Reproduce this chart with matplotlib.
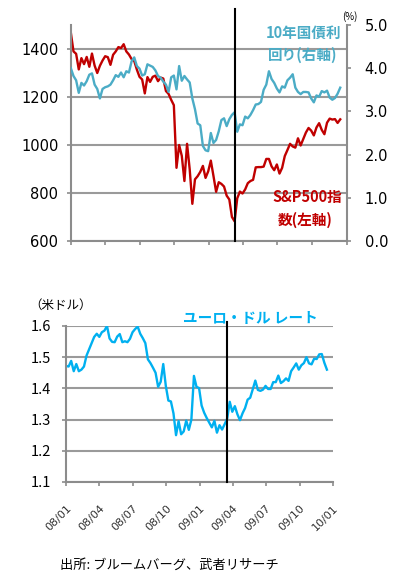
import numpy as np
import pandas as pd
import matplotlib
matplotlib.use("Agg")
import matplotlib.pyplot as plt
import matplotlib.dates as mdates

plt.rcParams['font.family'] = ['Noto Sans CJK JP', 'DejaVu Sans']

# weekly samples, 2008/01/01 - 2009/12/15
dates = pd.date_range('2008-01-01', periods=103, freq='7D')

sp500 = [1468, 1390, 1380, 1315, 1362, 1337, 1367, 1326, 1381, 1331,
         1300, 1330, 1352, 1370, 1366, 1334, 1376, 1390, 1408, 1404,
         1420, 1390, 1377, 1358, 1350, 1314, 1284, 1273, 1215, 1283,
         1263, 1284, 1289, 1266, 1281, 1277, 1225, 1213, 1188, 1166,
         905, 1000, 955, 850, 1005, 899, 755, 857, 870, 888,
         913, 863, 890, 935, 871, 805, 845, 838, 827, 789,
         773, 700, 682, 778, 806, 798, 815, 841, 850, 855,
         907, 908, 908, 910, 942, 942, 911, 895, 919, 881,
         905, 954, 979, 1005, 994, 989, 1028, 998, 1025, 1052,
         1071, 1060, 1040, 1073, 1091, 1063, 1045, 1093, 1110, 1106,
         1108, 1092, 1107]

yield10 = [4.00, 3.82, 3.72, 3.43, 3.66, 3.60, 3.70, 3.85, 3.88, 3.62,
           3.52, 3.30, 3.52, 3.56, 3.58, 3.62, 3.72, 3.84, 3.80, 3.90,
           3.79, 3.93, 3.90, 4.16, 4.25, 4.05, 3.99, 3.83, 3.86, 4.09,
           4.06, 4.03, 3.95, 3.82, 3.78, 3.69, 3.62, 3.45, 3.79, 3.83,
           3.51, 4.05, 3.71, 3.82, 3.74, 3.67, 3.30, 3.05, 2.72, 2.68,
           2.20, 2.10, 2.08, 2.50, 2.27, 2.34, 2.54, 2.80, 2.84, 2.66,
           2.82, 2.92, 2.98, 2.53, 2.70, 2.68, 2.88, 2.84, 2.92, 3.03,
           3.16, 3.17, 3.22, 3.50, 3.62, 3.93, 3.75, 3.66, 3.53, 3.44,
           3.58, 3.55, 3.72, 3.78, 3.86, 3.55, 3.45, 3.40, 3.45, 3.45,
           3.44, 3.30, 3.21, 3.37, 3.34, 3.47, 3.44, 3.48, 3.32, 3.27,
           3.31, 3.41, 3.55]

eurusd = [1.472, 1.470, 1.488, 1.455, 1.478, 1.455, 1.460, 1.470, 1.505, 1.525,
          1.545, 1.565, 1.575, 1.565, 1.580, 1.585, 1.600, 1.560, 1.549, 1.548,
          1.566, 1.574, 1.548, 1.551, 1.548, 1.559, 1.580, 1.590, 1.598, 1.575,
          1.561, 1.545, 1.493, 1.481, 1.466, 1.450, 1.405, 1.421, 1.478, 1.408,
          1.361, 1.358, 1.320, 1.250, 1.295, 1.253, 1.262, 1.297, 1.267, 1.300,
          1.440, 1.405, 1.401, 1.345, 1.322, 1.305, 1.290, 1.275, 1.296, 1.258,
          1.282, 1.268, 1.285, 1.303, 1.357, 1.325, 1.343, 1.317, 1.298, 1.320,
          1.337, 1.364, 1.370, 1.397, 1.425, 1.395, 1.392, 1.396, 1.408, 1.398,
          1.398, 1.420, 1.420, 1.441, 1.417, 1.423, 1.432, 1.424, 1.455, 1.467,
          1.480, 1.460, 1.474, 1.481, 1.500, 1.480, 1.477, 1.495, 1.494, 1.509,
          1.510, 1.482, 1.460]

quarters = pd.date_range('2008-01-01', '2010-01-01', freq='QS')
quarter_labels = ['08/01', '08/04', '08/07', '08/10', '09/01',
                  '09/04', '09/07', '09/10', '10/01']

line_top = pd.Timestamp('2009-03-10')
line_bottom = pd.Timestamp('2009-03-17')

RED = '#c00000'
TEAL = '#4bacc6'
BLUE = '#00b0f0'
GRID = '#9a9a9a'
SPINE = '#8c8c8c'

fig = plt.figure(figsize=(3.98, 5.87), dpi=100)

# ---- S&P500 and 10y yield ----
ax1 = fig.add_axes([0.178, 0.5894, 0.693, 0.368])
ax2 = ax1.twinx()

ax1.plot(dates, sp500, color=RED, lw=1.7)
ax2.plot(dates, yield10, color=TEAL, lw=1.7)

ax1.set_xlim(pd.Timestamp('2008-01-01'), pd.Timestamp('2010-01-01'))
ax1.set_ylim(600, 1500)
ax1.set_yticks([600, 800, 1000, 1200, 1400])
ax2.set_ylim(0, 5)
ax2.set_yticks([0, 1, 2, 3, 4, 5])
ax2.set_yticklabels(['%.1f' % v for v in [0, 1, 2, 3, 4, 5]])
ax1.set_xticks(quarters)
ax1.set_xticklabels([])
ax1.grid(axis='y', color=GRID, lw=1.5)
ax1.set_axisbelow(True)

for a in (ax1, ax2):
    a.spines['top'].set_visible(False)
    for s in a.spines.values():
        s.set_color(SPINE)
        s.set_linewidth(1.5)
ax1.spines['right'].set_visible(False)
ax2.spines['left'].set_visible(False)
ax2.spines['bottom'].set_visible(False)

ax1.tick_params(axis='both', colors=SPINE, length=3, width=1.2,
                labelcolor='black', labelsize=10.5, pad=6)
ax2.tick_params(axis='y', colors=SPINE, length=3, width=1.2,
                labelcolor='black', labelsize=10.5, pad=10)
for lab in ax1.get_yticklabels() + ax2.get_yticklabels():
    lab.set_family('DejaVu Sans')

ax2.axvline(line_top, ymin=0, ymax=1.074, color='black', lw=1.5,
            clip_on=False, zorder=5)

# ---- EUR/USD ----
ax3 = fig.add_axes([0.166, 0.1789, 0.671, 0.2658])
ax3.plot(dates, eurusd, color=BLUE, lw=1.7)
ax3.set_xlim(pd.Timestamp('2008-01-01'), pd.Timestamp('2010-01-01'))
ax3.set_ylim(1.1, 1.6)
ax3.set_yticks([1.1, 1.2, 1.3, 1.4, 1.5, 1.6])
ax3.set_yticklabels(['%.1f' % v for v in [1.1, 1.2, 1.3, 1.4, 1.5, 1.6]])
ax3.grid(axis='y', color=GRID, lw=1.5)
ax3.set_axisbelow(True)
for s in ('top', 'right'):
    ax3.spines[s].set_visible(False)
for s in ('left', 'bottom'):
    ax3.spines[s].set_color(SPINE)
    ax3.spines[s].set_linewidth(1.5)
ax3.set_xticks(quarters)
ax3.set_xticklabels(quarter_labels, rotation=45, ha='right', va='top',
                    rotation_mode='anchor', family='DejaVu Sans')
ax3.tick_params(axis='both', colors=SPINE, length=3, width=1.2,
                labelcolor='black', labelsize=10.5)
ax3.tick_params(axis='y', pad=8)
ax3.tick_params(axis='x', pad=12, labelsize=8, labelcolor='#333333')

ax3.axvline(line_bottom, ymin=0, ymax=1.026, color='black', lw=1.5,
            clip_on=False, zorder=5)

# ---- labels ----
def px(x, y):
    return x / 398, 1 - y / 587

fig.text(*px(350, 17), '(%)', fontsize=7, ha='center', va='center')
fig.text(*px(304, 33), '10年国債利', fontsize=10.5, fontweight='bold',
         color=TEAL, ha='center', va='center')
fig.text(*px(303, 55), '回り(右軸)', fontsize=10.5, fontweight='bold',
         color=TEAL, ha='center', va='center')
fig.text(*px(307, 197), 'S&P500指', fontsize=10.5, fontweight='bold',
         color=RED, ha='center', va='center')
fig.text(*px(305, 220), '数(左軸)', fontsize=10.5, fontweight='bold',
         color=RED, ha='center', va='center')
fig.text(*px(61, 305), '（米ドル）', fontsize=9, ha='center', va='center')
fig.text(*px(250, 318), 'ユーロ・ドル レート', fontsize=10.5,
         fontweight='bold', color=BLUE, ha='center', va='center')
fig.text(*px(60, 565), '出所: ブルームバーグ、武者リサーチ', fontsize=9.5,
         ha='left', va='center')

fig.savefig('out.png', dpi=100, facecolor='white')
